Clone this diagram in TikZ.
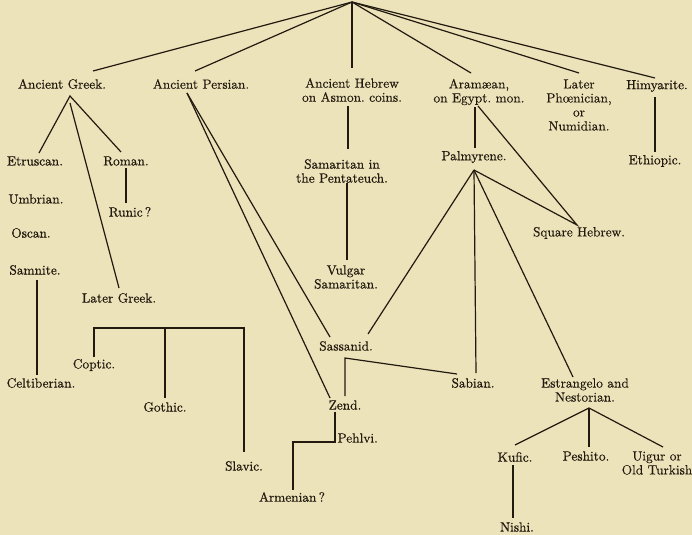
\documentclass[tikz,border=0pt]{standalone}
\usepackage{fontspec}
\usepackage{tikz}
\usetikzlibrary{calc}
\definecolor{Paper}{RGB}{236,227,187}
\definecolor{Ink}{RGB}{34,26,14}
\newfontfamily\plainfont{Latin Modern Roman}[FakeBold=0.2]
\newfontfamily\heavyfont{Latin Modern Roman}[FakeBold=0.6]

\begin{document}
\begin{tikzpicture}[x=0.75pt,y=-0.75pt,
    script/.style={inner sep=1pt,text=Ink,align=center,font=\plainfont\fontsize{10}{10.5}\selectfont},
    dark/.style={script,font=\heavyfont\fontsize{10}{10.5}\selectfont},
    link/.style={draw=Ink,line width=0.9pt}]
  \useasboundingbox (0,0) rectangle (692,535);
  \fill[Paper] (0,0) rectangle (692,535);
  \coordinate (root) at (352,2);

  \node[dark] (greek) at (62,84) {Ancient Greek.};
  \node[script] (persian) at (201,84) {Ancient Persian.};
  \node[script] (hebrew) at (352,90) {Ancient Hebrew\\on Asmon.\ coins.};
  \node[script] (aramaean) at (479,92) {Aram\ae an,\\on Egypt.\ mon.};
  \node[script] (phoenician) at (579,105) {Later\\Ph\oe nician,\\or\\Numidian.};
  \node[dark] (himyarite) at (657,86) {Himyarite.};
  \node[dark] (ethiopic) at (655,161) {Ethiopic.};

  \node[dark] (etruscan) at (35,161) {Etruscan.};
  \node[dark] (roman) at (126,161) {Roman.};
  \node[dark] (umbrian) at (36,199) {Umbrian.};
  \node[dark] (runic) at (130,212) {Runic\,?};
  \node[dark] (oscan) at (31,233) {Oscan.};
  \node[dark] (samnite) at (35,270) {Samnite.};
  \node[dark] (latergreek) at (119,298) {Later Greek.};
  \node[dark] (celtiberian) at (41,383) {Celtiberian.};
  \node[dark] (coptic) at (94,365) {Coptic.};
  \node[dark] (gothic) at (165,407) {Gothic.};
  \node[dark] (slavic) at (244,466) {Slavic.};

  \node[dark] (samaritan) at (342,171) {Samaritan in\\the Pentateuch.};
  \node[dark] (vulgar) at (346,277) {Vulgar\\Samaritan.};
  \node[dark] (palmyrene) at (474,157) {Palmyrene.};
  \node[script] (square) at (579,233) {Square Hebrew.};
  \node[script] (sassanid) at (346,346) {Sassanid.};
  \node[dark] (zend) at (345,405) {Zend.};
  \node[script,anchor=west] (pehlvi) at (336,438) {Pehlvi.};
  \node[dark] (armenian) at (292,497) {Armenian\,?};
  \node[dark] (sabian) at (473,383) {Sabian.};
  \node[script] (estrangelo) at (585,390) {Estrangelo and\\Nestorian.};
  \node[dark] (kufic) at (515,457) {Kufic.};
  \node[dark] (peshito) at (586,456) {Peshito.};
  \node[script] (uigur) at (657,463) {Uigur or\\Old Turkish};
  \node[dark] (nishi) at (517,527) {Nishi.};

  \draw[link] (root) -- ($(greek)+(31,-13)$);
  \draw[link] (root) -- ($(persian)+(-6,-13)$);
  \draw[link] (root) -- ($(hebrew)+(0,-22)$);
  \draw[link] (root) -- ($(aramaean)+(-8,-19)$);
  \draw[link] (root) -- ($(phoenician)+(0,-32)$);
  \draw[link] (root) -- ($(himyarite)+(-2,-8)$);
  \draw[link] ($(himyarite)+(-2,11)$) -- ($(ethiopic)+(0,-9)$);

  \coordinate (gfork) at ($(greek)+(8,12)$);
  \draw[link] ($(etruscan)+(4,-8)$) -- (gfork) -- ($(roman)+(-5,-9)$);
  \draw[link] ($(gfork)+(0,7)$) -- ($(latergreek)+(0,-10)$);
  \draw[link] ($(roman)+(0,7)$) -- ($(runic)+(-4,-9)$);
  \draw[link] ($(samnite)+(2,10)$) -- ($(celtiberian)+(-4,-8)$);
  \draw[link] ($(coptic)+(0,-8)$) -- ++(0,-29) coordinate (bar) -| ($(slavic)+(0,-14)$);
  \draw[link] ($(gothic)+(0,-9)$) -- (gothic |- bar);

  \draw[link] ($(hebrew)+(-4,16)$) -- ($(samaritan)+(6,-22)$);
  \draw[link] ($(samaritan)+(5,12)$) -- ($(vulgar)+(1,-17)$);

  \coordinate (pfork) at ($(palmyrene)+(0,13)$);
  \draw[link] ($(aramaean)+(-4,15)$) -- ($(palmyrene)+(1,-9)$);
  \draw[link] ($(aramaean)+(-1,14)$) -- ($(square)+(-2,-8)$) -- (pfork);
  \draw[link] (pfork) -- ($(sassanid)+(22,-12)$);
  \draw[link] (pfork) -- ($(sabian)+(3,-10)$);
  \draw[link] (pfork) -- ($(estrangelo)+(-12,-13)$);

  \coordinate (pfoot) at ($(persian)+(-14,9)$);
  \draw[link] (pfoot) -- ($(sassanid)+(-16,-9)$);
  \draw[link] (pfoot) -- ($(zend)+(-15,-7)$);
  \draw[link] ($(zend)+(0,-9)$) -- ++(0,-38) -- ($(sabian)+(-16,-9)$);
  \draw[link] ($(zend)+(-10,7)$) -- ++(0,30) -| ($(armenian)+(1,-7)$);

  \coordinate (efork) at ($(estrangelo)+(4,18)$);
  \draw[link] (efork) -- ($(kufic)+(0,-12)$);
  \draw[link] (efork) -- ($(peshito)+(3,-9)$);
  \draw[link] (efork) -- ($(uigur)+(6,-16)$);
  \draw[link] ($(kufic)+(-2,8)$) -- ($(nishi)+(-4,-9)$);
\end{tikzpicture}
\end{document}
